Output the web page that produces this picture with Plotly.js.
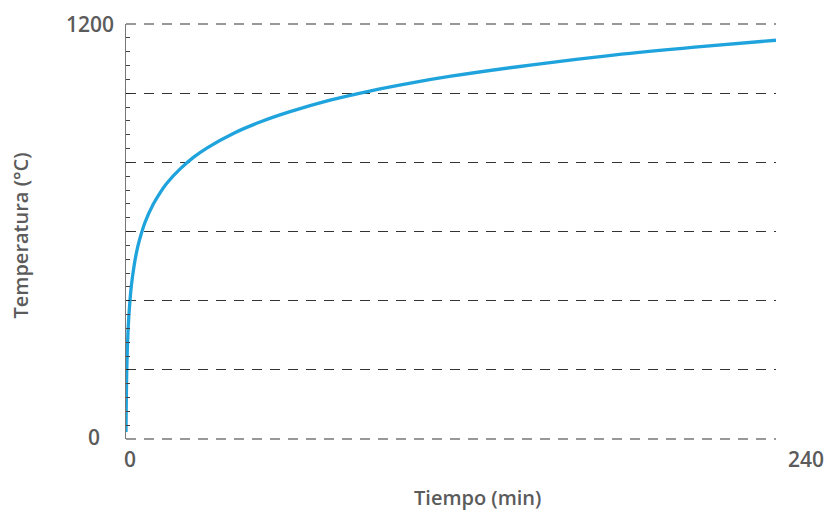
<!DOCTYPE html>
<html>
<head>
<meta charset="utf-8">
<script src="https://cdn.plot.ly/plotly-3.0.1.min.js"></script>
<style>html,body{margin:0;padding:0;background:#fff;}#chart{width:829px;height:513px;}</style>
</head>
<body>
<div id="chart"></div>
<script>
// Time (min) and temperature (°C)
const timeMin = [0, 0.1, 0.25, 0.5, 0.75, 1, 1.5, 2, 3, 4, 5, 7, 10, 13, 15, 20, 25, 30, 40, 50, 60, 75, 90, 105, 120, 150, 180, 210, 240];
const tempC   = [20, 108, 185, 261, 312, 349, 404, 445, 502, 544, 576, 626, 678, 717, 739, 781, 815, 842, 885, 918, 945, 979, 1006, 1029, 1049, 1082, 1110, 1133, 1153];
const yTickVals = [0, 1200];
const yTickText = ['0', '1200'];
const xTickVals = [0, 240];
const xTickText = ['0', '240'];
const xTitle = 'Tiempo (min)';
const yTitle = 'Temperatura (°C)';
const yRange = [0, 1200];

const fontFam = '"Open Sans", "Noto Sans", sans-serif';
const txtColor = '#5b5b5b';

const annotations = [];
yTickVals.forEach((v, i) => {
  annotations.push({x: 0, xref: 'paper', y: v, yref: 'y', text: yTickText[i], showarrow: false,
    xanchor: 'right', yanchor: 'middle', xshift: v === 0 ? -24 : -10, yshift: v === 0 ? 2 : 0,
    font: {family: fontFam, size: 21, color: txtColor, weight: 600}});
});
xTickVals.forEach((v, i) => {
  annotations.push({x: v, xref: 'x', y: 0, yref: 'paper', text: xTickText[i], showarrow: false,
    xanchor: 'center', yanchor: 'top', xshift: v === 0 ? 4 : 30, yshift: -4,
    font: {family: fontFam, size: 21, color: txtColor, weight: 600}});
});
annotations.push({x: 0.54, xref: 'paper', y: 0, yref: 'paper', text: xTitle, showarrow: false,
  xanchor: 'center', yanchor: 'middle', yshift: -58,
  font: {family: fontFam, size: 20, color: txtColor, weight: 600}});
annotations.push({x: 0, xref: 'paper', y: 0.5, yref: 'paper', text: yTitle, showarrow: false,
  xanchor: 'center', yanchor: 'middle', xshift: -106, yshift: -4, textangle: -90,
  font: {family: fontFam, size: 20, color: txtColor, weight: 600}});

// gridlines at the range ends (Plotly skips them at the edges)
const shapes = yTickVals.map(v => ({
  type: 'line', xref: 'paper', x0: 0, x1: 1, yref: 'paper',
  y0: (v - yRange[0]) / (yRange[1] - yRange[0]), y1: (v - yRange[0]) / (yRange[1] - yRange[0]),
  line: {color: '#333', width: 1, dash: '10px,8px'}, layer: 'above'
}));

const trace = {
  x: timeMin, y: tempC, type: 'scatter', mode: 'lines',
  line: {color: '#1fa3dc', width: 3.3, shape: 'spline', smoothing: 1},
  hoverinfo: 'skip'
};

const layout = {
  width: 829, height: 513,
  margin: {l: 126, r: 53, t: 24, b: 74},
  paper_bgcolor: '#fff', plot_bgcolor: '#fff',
  showlegend: false,
  xaxis: {
    range: [0, 240], showgrid: false, zeroline: false, showline: false,
    showticklabels: false, ticks: '', fixedrange: true
  },
  yaxis: {
    range: yRange, tick0: 0, dtick: 200, showgrid: true,
    gridcolor: '#333', griddash: '10px,8px', gridwidth: 1,
    zeroline: false, showline: true, linecolor: '#777', linewidth: 1.5,
    ticks: 'inside', ticklen: 4, tickcolor: '#222', tickwidth: 1,
    minor: {tick0: 0, dtick: 40, ticks: 'inside', ticklen: 4, tickcolor: '#444', tickwidth: 1, showgrid: false},
    showticklabels: false, fixedrange: true
  },
  shapes: shapes,
  annotations: annotations
};

Plotly.newPlot('chart', [trace], layout, {displayModeBar: false, staticPlot: true});
</script>
</body>
</html>
